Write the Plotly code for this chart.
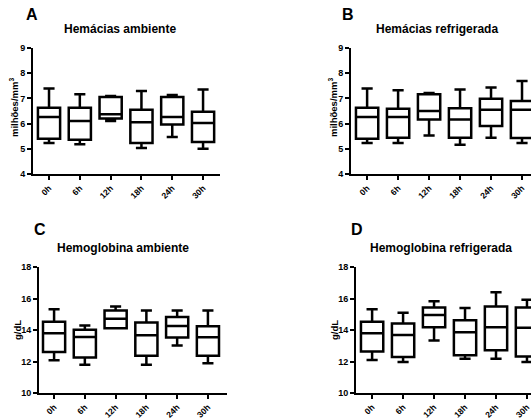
import plotly.graph_objects as go

categories = ["0h", "6h", "12h", "18h", "24h", "30h"]

# Panel A: Hemácias ambiente
a_low = [5.23, 5.18, 6.10, 5.03, 5.47, 5.00]
a_q1 = [5.40, 5.36, 6.20, 5.23, 5.96, 5.27]
a_med = [6.26, 6.10, 6.37, 6.05, 6.26, 6.02]
a_q3 = [6.63, 6.63, 7.06, 6.55, 7.06, 6.47]
a_high = [7.39, 7.16, 7.10, 7.29, 7.13, 7.35]

# Panel B: Hemácias refrigerada
b_low = [5.23, 5.23, 5.53, 5.16, 5.44, 5.23]
b_q1 = [5.40, 5.44, 6.16, 5.44, 5.90, 5.43]
b_med = [6.26, 6.26, 6.50, 6.16, 6.55, 6.55]
b_q3 = [6.63, 6.59, 7.16, 6.61, 6.99, 6.90]
b_high = [7.39, 7.32, 7.21, 7.35, 7.43, 7.69]

# Panel C: Hemoglobina ambiente
c_low = [12.08, 11.80, 14.11, 11.80, 13.01, 11.89]
c_q1 = [12.61, 12.25, 14.11, 12.37, 13.52, 12.37]
c_med = [13.80, 13.55, 14.71, 13.67, 14.26, 13.54]
c_q3 = [14.52, 14.01, 15.24, 14.48, 14.82, 14.24]
c_high = [15.32, 14.28, 15.49, 15.24, 15.24, 15.24]

# Panel D: Hemoglobina refrigerada
d_low = [12.10, 11.97, 13.33, 12.18, 12.18, 11.97]
d_q1 = [12.63, 12.29, 14.18, 12.39, 12.71, 12.31]
d_med = [13.80, 13.69, 14.96, 13.86, 14.18, 14.14]
d_q3 = [14.52, 14.41, 15.43, 14.62, 15.49, 15.43]
d_high = [15.32, 15.09, 15.83, 15.39, 16.39, 15.92]

W, H = 531, 419
FONT = "Liberation Sans, Arial, sans-serif"

fig = go.Figure()

panels = [
    ("x", "y", a_low, a_q1, a_med, a_q3, a_high),
    ("x2", "y2", b_low, b_q1, b_med, b_q3, b_high),
    ("x3", "y3", c_low, c_q1, c_med, c_q3, c_high),
    ("x4", "y4", d_low, d_q1, d_med, d_q3, d_high),
]
for xa, ya, lo, q1, md, q3, hi in panels:
    fig.add_trace(go.Box(
        x=categories, lowerfence=lo, q1=q1, median=md, q3=q3, upperfence=hi,
        xaxis=xa, yaxis=ya, fillcolor="white",
        line=dict(color="black", width=2.5), whiskerwidth=0.5,
        width=0.72, boxpoints=False, showlegend=False, hoverinfo="skip",
    ))

def px_x(p):
    return p / W

def px_y(p):
    return 1 - p / H

axis_common = dict(
    showline=True, linecolor="black", linewidth=2, showgrid=False, zeroline=False,
    ticks="outside", ticklen=4, tickwidth=1.5, tickcolor="black", automargin=False,
    tickfont=dict(family=FONT, size=9, color="black", weight="bold"),
)

xaxis_common = dict(axis_common, type="category", categoryorder="array",
                    categoryarray=categories, tickangle=-45,
                    tickfont=dict(family=FONT, size=8.5, color="black", weight="bold"))

layout = dict(
    width=W, height=H, margin=dict(l=0, r=0, t=0, b=0),
    paper_bgcolor="white", plot_bgcolor="white",
    xaxis=dict(xaxis_common, domain=[px_x(33), px_x(220)], range=[-0.52, 5.55], anchor="y"),
    yaxis=dict(axis_common, domain=[px_y(174), px_y(48)], range=[4, 9], dtick=1, anchor="x"),
    xaxis2=dict(xaxis_common, domain=[px_x(351), 1.0], range=[-0.52, 5.29], anchor="y2"),
    yaxis2=dict(axis_common, domain=[px_y(174), px_y(48)], range=[4, 9], dtick=1, anchor="x2"),
    xaxis3=dict(xaxis_common, domain=[px_x(39), px_x(227)], range=[-0.49, 5.62], anchor="y3"),
    yaxis3=dict(axis_common, domain=[px_y(393), px_y(267)], range=[10, 18], dtick=2, anchor="x3"),
    xaxis4=dict(xaxis_common, domain=[px_x(356), 1.0], range=[-0.52, 5.13], anchor="y4"),
    yaxis4=dict(axis_common, domain=[px_y(393), px_y(267)], range=[10, 18], dtick=2, anchor="x4"),
)
fig.update_layout(**layout)

def ann(text, x, y, size, angle=0):
    fig.add_annotation(text=text, x=px_x(x), y=px_y(y), xref="paper", yref="paper",
                       showarrow=False, textangle=angle, xanchor="center", yanchor="middle",
                       font=dict(family=FONT, size=size, color="black", weight="bold"))

ann("A", 32, 14, 16)
ann("B", 348, 14, 16)
ann("C", 40, 230, 16)
ann("D", 357, 230, 16)
ann("Hemácias ambiente", 120, 29, 12)
ann("Hemácias refrigerada", 437, 29, 12)
ann("Hemoglobina ambiente", 123, 248, 12)
ann("Hemoglobina refrigerada", 441, 248, 12)
ann("milhões/mm<sup>3</sup>", 14, 108, 9.5, -90)
ann("milhões/mm<sup>3</sup>", 333, 108, 9.5, -90)
ann("g/dL", 17, 330, 9.5, -90)
ann("g/dL", 334, 330, 9.5, -90)

fig.write_html("out.html", config={"displayModeBar": False},
               post_script="document.body.style.margin='0';")
